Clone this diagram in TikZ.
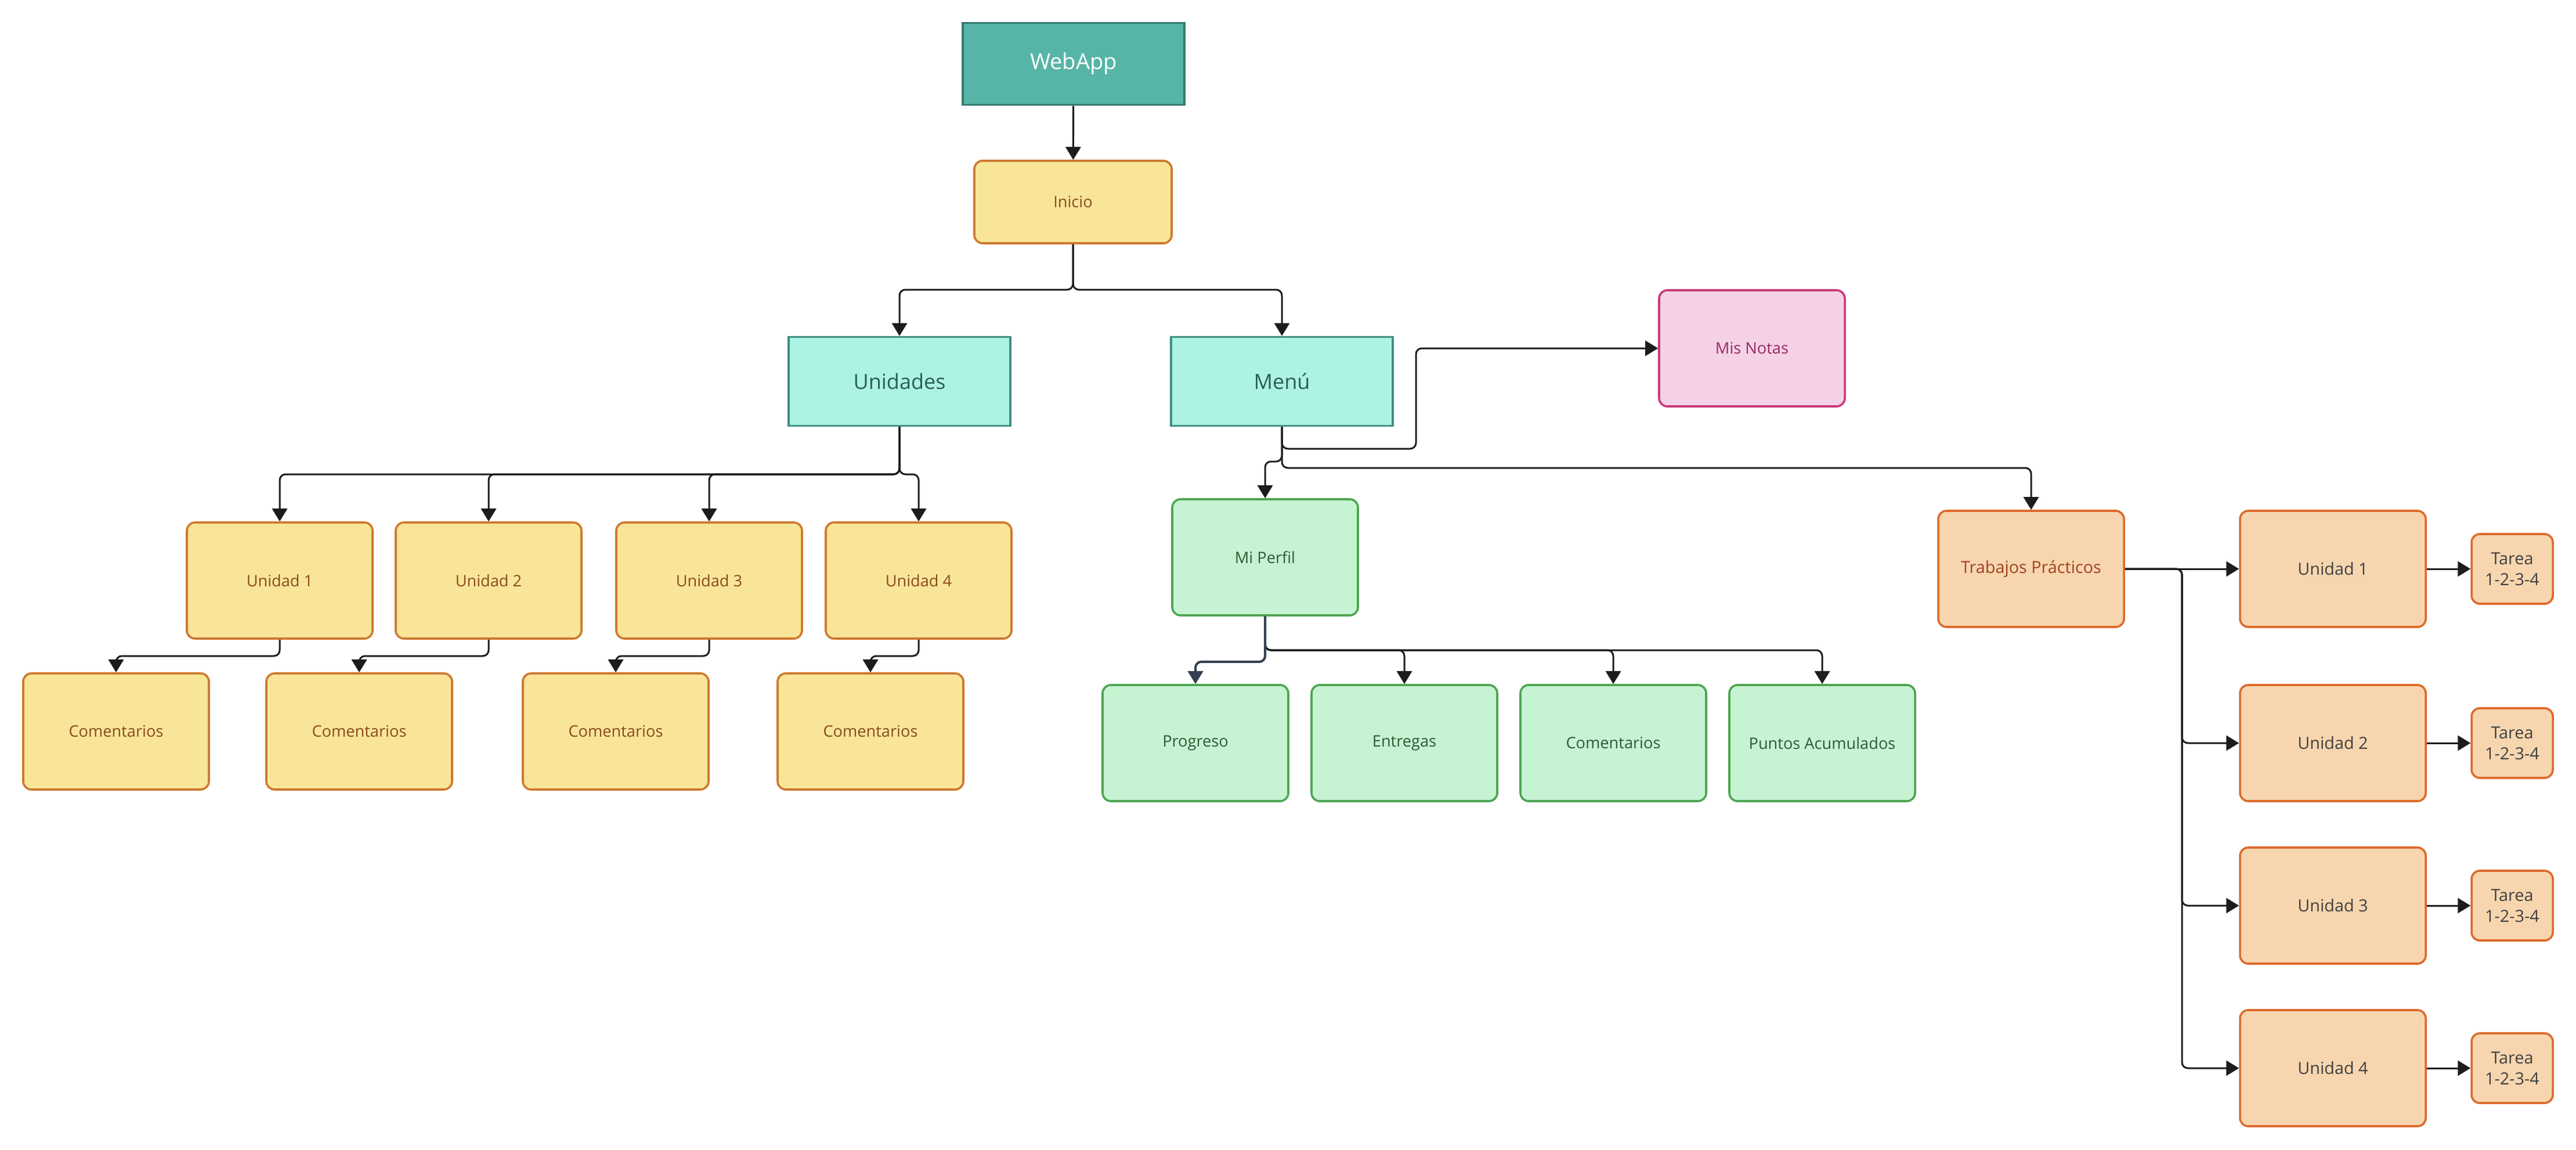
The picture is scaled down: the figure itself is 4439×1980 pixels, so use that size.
\documentclass[tikz,border=0pt]{standalone}
\usepackage{fontspec}
\setmainfont{Open Sans}
\usetikzlibrary{arrows.meta, positioning, calc}
\definecolor{tealdark}{HTML}{56B5A6}
\definecolor{tealdarkline}{HTML}{357A6F}
\definecolor{tealpale}{HTML}{ADF3E4}
\definecolor{tealpaleline}{HTML}{3F9083}
\definecolor{tealtext}{HTML}{2B5E57}
\definecolor{sandfill}{HTML}{F8E598}
\definecolor{sandline}{HTML}{CD7A2F}
\definecolor{sandtext}{HTML}{8A4A1E}
\definecolor{pinkfill}{HTML}{F4D1E6}
\definecolor{pinkline}{HTML}{C83A7A}
\definecolor{pinktext}{HTML}{9A2A62}
\definecolor{mintfill}{HTML}{C6F3D2}
\definecolor{mintline}{HTML}{4DA652}
\definecolor{minttext}{HTML}{2E5B35}
\definecolor{peachfill}{HTML}{F7D6AF}
\definecolor{peachline}{HTML}{DD6A2D}
\definecolor{peachtext}{HTML}{A0421F}
\definecolor{greytext}{HTML}{404040}
\definecolor{wire}{HTML}{1C1C1C}
\definecolor{slate}{HTML}{333F52}
\tikzset{
  align=center,
  box/.style={draw, line width=0.9pt, inner sep=2pt, font=\fontsize{6.8}{8.6}\selectfont},
  card/.style={box, rounded corners=3.5pt, minimum width=80pt, minimum height=50pt},
  section/.style={box, fill=tealpale, draw=tealpaleline, text=tealtext, minimum width=95.5pt, minimum height=38.25pt, font=\fontsize{9}{11}\selectfont},
  sandcard/.style={card, fill=sandfill, draw=sandline, text=sandtext},
  mintcard/.style={card, fill=mintfill, draw=mintline, text=minttext},
  peachcard/.style={card, fill=peachfill, draw=peachline, text=greytext, font=\fontsize{7.2}{9}\selectfont},
  tareabox/.style={peachcard, minimum width=35pt, minimum height=30pt},
  pto/.style={-{Triangle[length=5.5pt,width=6.5pt]}, line width=0.75pt, wire, rounded corners=2.5pt}
}

\begin{document}
\begin{tikzpicture}[x=0.25pt, y=-0.25pt]
  \useasboundingbox (0,0) rectangle (4439,1980);

  \node[box, fill=tealdark, draw=tealdarkline, text=white, minimum width=95.5pt, minimum height=35.25pt,
        font=\fontsize{9.5}{11}\selectfont] (webapp) at (1850,110) {WebApp};
  \node[sandcard, minimum width=85pt, minimum height=35.5pt] (inicio) at (1849,348) {Inicio};
  \node[section] (unidades) at (1550,657) {Unidades};
  \node[section] (menu) at (2209,657) {Menú};
  \node[card, fill=pinkfill, draw=pinkline, text=pinktext] (misnotas) at (3019,600) {Mis Notas};

  % unidades
  \foreach \i/\x/\c in {1/482/200, 2/842/619, 3/1222/1061, 4/1583/1500} {
    \node[sandcard] (u\i) at (\x,1000) {Unidad \i};
    \node[sandcard] (com\i) at (\c,1260) {Comentarios};
  }

  % perfil
  \node[mintcard] (miperfil) at (2180,960) {Mi Perfil};
  \node[mintcard] (progreso) at (2060,1280) {Progreso};
  \node[mintcard] (entregas) at (2420,1280) {Entregas};
  \node[mintcard] (comperfil) at (2780,1280) {Comentarios};
  \node[mintcard] (puntos) at (3140,1280) {Puntos Acumulados};

  % trabajos
  \node[peachcard, text=peachtext] (trabajos) at (3500,980) {Trabajos Prácticos};
  \foreach \i/\y in {1/980, 2/1280, 3/1560, 4/1840} {
    \node[peachcard] (tpu\i) at (4020,\y) {Unidad \i};
    \node[tareabox] (tarea\i) at (4329,\y) {Tarea\\1-2-3-4};
  }

  \coordinate (fkinicio) at (0,499);
  \coordinate (fkunidades) at (0,817);
  \coordinate (fkcomentarios) at (0,1130);
  \coordinate (fkmiperfil) at (0,795);
  \coordinate (fktrabajos) at (0,806);
  \coordinate (fknotas) at (2440,773);
  \coordinate (fkperfil) at (0,1120);
  \coordinate (fkprogreso) at (0,1140);
  \coordinate (trunk) at (3760,0);

  \begin{scope}[every path/.style={pto}]
    \draw (webapp) -- (inicio);
    \foreach \n in {unidades, menu}
      \draw (inicio) -- (inicio.south |- fkinicio) -| (\n);

    \foreach \i in {1,...,4} {
      \draw (unidades) -- (unidades.south |- fkunidades) -| (u\i);
      \draw (u\i) -- (u\i.south |- fkcomentarios) -| (com\i);
    }

    \draw (menu) -- (menu.south |- fknotas) -- (fknotas) |- (misnotas);
    \draw (menu) -- (menu.south |- fktrabajos) -| (trabajos);
    \draw (menu) -- (menu.south |- fkmiperfil) -| (miperfil);

    \foreach \n in {entregas, comperfil, puntos}
      \draw (miperfil) -- (miperfil.south |- fkperfil) -| (\n);
    \draw[slate, line width=1pt] (miperfil) -- (miperfil.south |- fkprogreso) -| (progreso);

    \draw (trabajos) -- (tpu1);
    \foreach \i in {2,3,4}
      \draw (trabajos) -- (trabajos.east -| trunk) |- (tpu\i);
    \foreach \i in {1,...,4}
      \draw (tpu\i) -- (tarea\i);
  \end{scope}
\end{tikzpicture}
\end{document}
